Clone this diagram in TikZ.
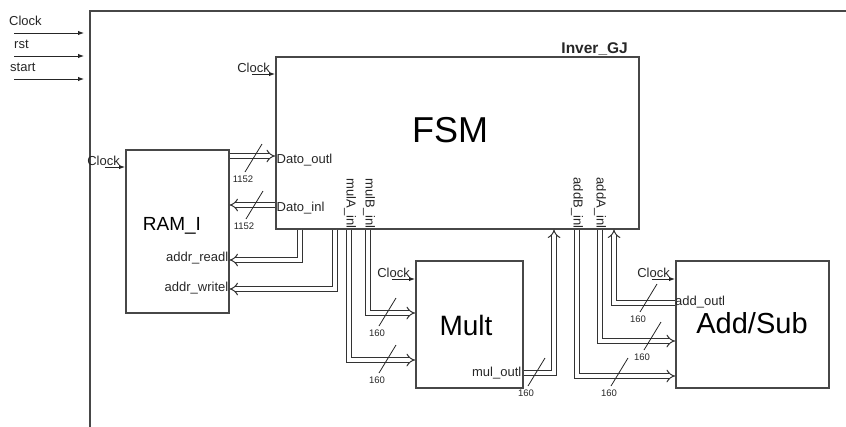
\documentclass[tikz,border=0pt]{standalone}
\usepackage{fontspec}
\setmainfont{Liberation Sans}
\usetikzlibrary{arrows.meta,calc}

\begin{document}
\begin{tikzpicture}[x=1pt, y=-1pt,
  blk/.style={draw=black!72, line width=1.5pt, anchor=north west, inner sep=0pt},
  sig/.style={-{Latex[length=6pt,width=4.5pt]}, line width=1pt, draw=black!85},
  bus/.style={draw=black!80, line width=1pt, double=white, double distance=3.4pt, -{Implies}},
  lbl/.style={font=\fontsize{13}{15}\selectfont, inner sep=0pt, text=black!85},
  vlbl/.style={lbl, rotate=-90, anchor=east, inner sep=1pt},
  wid/.style={font=\fontsize{9.5}{11}\selectfont, inner sep=0pt, anchor=north, text=black!85},
  tick/.style={line width=0.8pt, draw=black!85}
]
  \useasboundingbox (0,0) rectangle (846,426);

  % top level frame
  \node[blk, minimum width=800pt, minimum height=460pt] (inver) at (89,10) {};
  \node[lbl, font=\fontsize{15.5}{17}\selectfont\bfseries, anchor=base east] (title) at (628,53) {Inver\_GJ};

  % blocks
  \node[blk, minimum width=363pt, minimum height=172pt] (fsm) at (275,56) {};
  \node[blk, minimum width=103pt, minimum height=163pt] (ram) at (125,149) {};
  \node[blk, minimum width=107pt, minimum height=127pt] (mult) at (415,260) {};
  \node[blk, minimum width=153pt, minimum height=127pt] (add) at (675,260) {};

  \node[font=\fontsize{36}{40}\selectfont] (fsmname) at (450,130) {FSM};
  \node[font=\fontsize{19}{22}\selectfont] (ramname) at (172,226) {RAM\_I};
  \node[font=\fontsize{28}{32}\selectfont] (multname) at (466,325) {Mult};
  \node[font=\fontsize{29}{33}\selectfont] (addname) at (752,323) {Add/Sub};

  % top inputs
  \foreach \s/\y/\x [count=\i] in {Clock/33/9, rst/56/14, start/79/10} {
    \coordinate (in\i) at (14,\y);
    \draw[sig, shorten >=5pt] (in\i) -- (in\i -| inver.west);
    \node[lbl, anchor=base west] (inl\i) at (\x,\y-8) {\s};
  }

  % clock inputs of the blocks
  \foreach \b/\x/\y in {fsm/252/74, ram/105/167, mult/392/279, add/652/279} {
    \coordinate (clk\b) at (\x,\y);
    \draw[sig] (clk\b) -- (clk\b -| \b.west);
    \node[lbl, anchor=base east] (clkl\b) at ($(clk\b -| \b.west)+(-5,-2)$) {Clock};
  }

  % port names
  \node[lbl, anchor=west, xshift=1.5pt] (doutl) at (fsm.west |- 0,160) {Dato\_outl};
  \node[lbl, anchor=west, xshift=1.5pt] (dinl) at (fsm.west |- 0,208) {Dato\_inl};
  \node[lbl, anchor=east, xshift=-1pt] (rdl) at (ram.east |- 0,258) {addr\_readl};
  \node[lbl, anchor=east, xshift=-1pt] (wrl) at (ram.east |- 0,288) {addr\_writel};
  \node[lbl, anchor=east, xshift=-2pt] (moutl) at (mult.east |- 0,373) {mul\_outl};
  \node[lbl, anchor=west] (aoutl) at (add.west |- 0,302) {add\_outl};
  \foreach \n/\x in {mulA/350, mulB/369, addB/577, addA/600}
    \node[vlbl] (p\n) at (fsm.south -| \x,0) {\n\_inl};

  % buses to and from the RAM
  \draw[bus] (ram.east |- 0,156) -- (fsm.west |- 0,156);
  \draw[bus] (fsm.west |- 0,205) -- (ram.east |- 0,205);
  \draw[bus] (fsm.south -| 300,0) |- (ram.east |- 0,260);
  \draw[bus] (fsm.south -| 335,0) |- (ram.east |- 0,289);
  % buses of the multiplier
  \draw[bus] (fsm.south -| 368,0) |- (mult.west |- 0,313);
  \draw[bus] (fsm.south -| 349,0) |- (mult.west |- 0,360);
  \draw[bus] (mult.east |- 0,373) -| (fsm.south -| 554,0);
  % buses of the adder
  \draw[bus] (fsm.south -| 600,0) |- (add.west |- 0,341);
  \draw[bus] (fsm.south -| 577,0) |- (add.west |- 0,376);
  \draw[bus] (add.west |- 0,303) -| (fsm.south -| 614,0);

  % bus widths
  \foreach \x/\y/\w [count=\i] in {262/144/1152, 263/191/1152, 396/298/160, 396/345/160,
                                   545/358/160, 657/284/160, 661/322/160, 628/358/160} {
    \draw[tick] (\x,\y) -- ++(-17,28) node[wid, xshift=-2pt, yshift=-3pt] (w\i) {\w};
  }
\end{tikzpicture}
\end{document}
